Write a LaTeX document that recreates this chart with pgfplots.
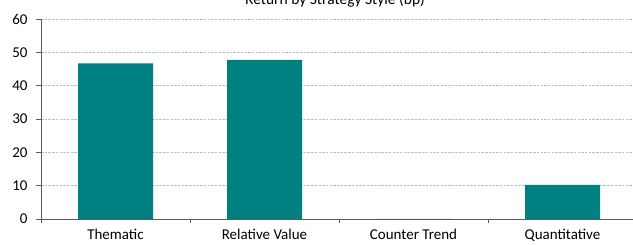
\documentclass[border=0pt]{standalone}
\usepackage{pgfplots}
\pgfplotsset{compat=1.18}
\usepackage{fontspec}
\setmainfont{Carlito}
\definecolor{barteal}{RGB}{0,128,128}
\definecolor{gridgray}{RGB}{190,190,190}
\definecolor{axgray}{RGB}{90,90,90}
\pgfplotsset{
  layers/mylayers/.define layer set={axis background,axis grid,pre main,main,axis ticks,axis lines,axis tick labels,axis descriptions,axis foreground}{/pgfplots/layers/standard},
}
\begin{document}
\begin{tikzpicture}
\begin{axis}[
  set layers=mylayers,
  at={(41bp,26bp)}, anchor=south west,
  scale only axis, width=596bp, height=200bp,
  xmin=-0.5, xmax=3.5, ymin=0, ymax=60,
  axis x line*=bottom, axis y line*=left,
  axis line style={axgray, line width=0.8bp, -},
  ytick={0,10,...,60},
  xtick={0,1,2,3},
  xticklabels={Thematic,Relative Value,Counter Trend,Quantitative},
  minor xtick={-0.5,0.5,1.5,2.5,3.5},
  tick align=outside,
  major x tick style={draw=none},
  major tick length=5bp,
  minor tick length=4bp,
  tick style={axgray, line width=0.8bp},
  minor tick style={axgray, line width=0.8bp},
  ymajorgrids,
  grid style={gridgray, dash pattern=on 2.5bp off 1.2bp, line width=0.6bp},
  /pgf/number format/assume math mode=true,
  tick label style={font=\fontsize{15bp}{18bp}\selectfont, text=black},
  xticklabel style={yshift=-3.5bp, inner sep=1bp},
  yticklabel style={xshift=-5bp},
  ybar, bar width=75bp,
  clip=false,
]
\addplot[fill=barteal, draw=none] coordinates {(0,46.7) (1,47.7) (2,0) (3,10.2)};
\end{axis}
\node[font=\fontsize{15.5bp}{18bp}\selectfont, anchor=base] at (335bp,240.5bp) {Return by Strategy Style (bp)};
\pgfresetboundingbox
\useasboundingbox (0,0) rectangle (633bp,245bp);
\end{tikzpicture}
\end{document}
